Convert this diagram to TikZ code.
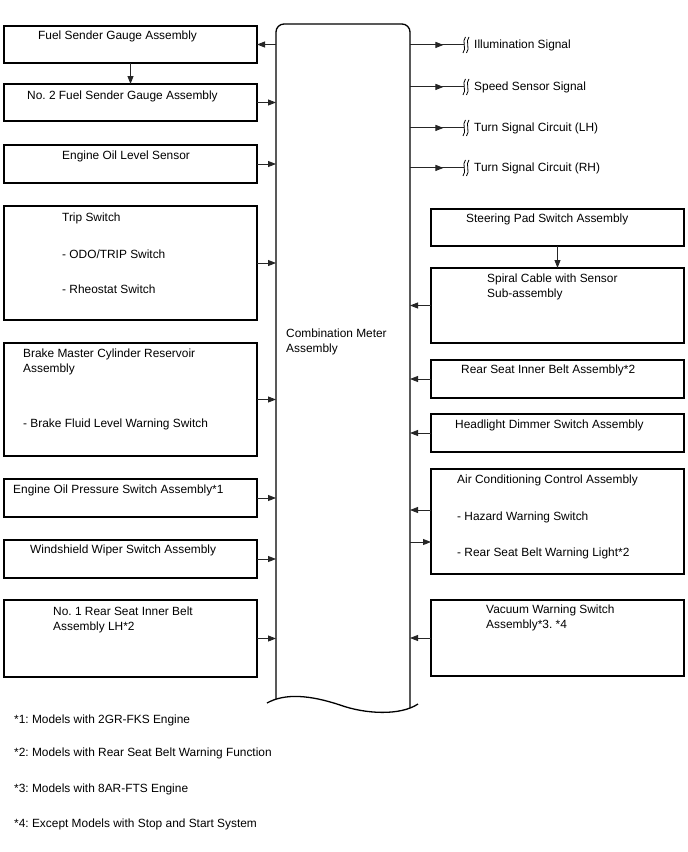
\documentclass[tikz,border=0pt]{standalone}
\usepackage{fontspec}
\setmainfont{Liberation Sans}
\usetikzlibrary{arrows.meta,calc,decorations.markings}
\frenchspacing

\begin{document}
\begin{tikzpicture}[x=1pt,y=-1pt,
 >={Triangle[length=8pt,width=6pt]},
 font=\fontsize{11.9}{15}\selectfont,
 blk/.style={draw,line width=1.3pt,minimum width=253pt,anchor=north west,inner sep=0pt,outer sep=0pt},
 txt/.style={anchor=base west,inner sep=0pt,align=left},
 conn/.style={->,line width=0.9pt,draw=black!85},
 sigline/.style={line width=0.9pt,draw=black!85,postaction={decorate},
  decoration={markings,mark=at position 0.62 with {\arrow{Triangle[length=8pt,width=6pt]}}}}
]
\useasboundingbox (0,0) rectangle (688,852);

\node[minimum width=134pt,minimum height=675pt,anchor=north west,inner sep=0pt,outer sep=0pt] (meter) at (276,24) {};
\draw[line width=1.3pt,rounded corners=8pt] (meter.south west) -- (meter.north west) -- (meter.north east) -- ($(meter.south east)+(0,9)$);
\draw[line width=1.3pt] (267,703) .. controls (285,693) and (310,695) .. (340,705) .. controls (365,714) and (400,716) .. (418,704);
\node[txt] (metertxt) at (286,352) {Combination Meter\\Assembly};

% left side
\node[blk,minimum height=37pt] (fuel) at (4,26) {};
\node[blk,minimum height=37pt] (fuel2) at (4,84) {};
\node[blk,minimum height=38pt] (oillvl) at (4,145) {};
\node[blk,minimum height=114pt] (trip) at (4,206) {};
\node[blk,minimum height=113pt] (brake) at (4,343) {};
\node[blk,minimum height=38pt] (oilpres) at (4,479) {};
\node[blk,minimum height=38pt] (wiper) at (4,540) {};
\node[blk,minimum height=77pt] (rearlh) at (4,600) {};

\node[txt] (fueltxt) at (38,39.5) {Fuel Sender Gauge Assembly};
\node[txt] (fuel2txt) at (27,99.5) {No. 2 Fuel Sender Gauge Assembly};
\node[txt] (oillvltxt) at (62,159.5) {Engine Oil Level Sensor};
\node[txt] (triptxt) at (62,293) {Trip Switch\\[22pt]- ODO/TRIP Switch\\[20pt]- Rheostat Switch};
\node[txt] (braketxt) at (23,427) {Brake Master Cylinder Reservoir\\Assembly\\[40pt]- Brake Fluid Level Warning Switch};
\node[txt] (oilprestxt) at (13,493.5) {Engine Oil Pressure Switch Assembly*1};
\node[txt] (wipertxt) at (30,553) {Windshield Wiper Switch Assembly};
\node[txt] (rearlhtxt) at (53,630.5) {No. 1 Rear Seat Inner Belt\\Assembly LH*2};

\draw[conn] (meter.west |- fuel.east) -- (fuel.east);
\draw[conn] (fuel.south) -- (fuel2.north);
\foreach \b in {fuel2,oillvl,trip,brake,oilpres,wiper,rearlh}
 \draw[conn] (\b.east) -- (meter.west |- \b.east);

% right side
\node[blk,minimum height=37pt] (steer) at (431,209) {};
\node[blk,minimum height=75pt] (spiral) at (431,268) {};
\node[blk,minimum height=38pt] (rearin) at (431,360) {};
\node[blk,minimum height=38pt] (dimmer) at (431,414) {};
\node[blk,minimum height=105pt] (ac) at (431,469) {};
\node[blk,minimum height=76pt] (vacuum) at (431,600) {};

\node[txt] (steertxt) at (466,222) {Steering Pad Switch Assembly};
\node[txt] (spiraltxt) at (487,297.5) {Spiral Cable with Sensor\\Sub-assembly};
\node[txt] (rearintxt) at (461,373.5) {Rear Seat Inner Belt Assembly*2};
\node[txt] (dimmertxt) at (455,428) {Headlight Dimmer Switch Assembly};
\node[txt] (actxt) at (457,556) {Air Conditioning Control Assembly\\[21.5pt]- Hazard Warning Switch\\[21pt]- Rear Seat Belt Warning Light*2};
\node[txt] (vacuumtxt) at (486,628.5) {Vacuum Warning Switch\\Assembly*3. *4};

\draw[conn] (steer.south) -- (spiral.north);
\foreach \b in {spiral,rearin,dimmer,vacuum}
 \draw[conn] (\b.west) -- (meter.east |- \b.west);
\coordinate (acin) at ($(ac.north west)+(0,41)$);
\coordinate (acout) at ($(ac.north west)+(0,73)$);
\draw[conn] (acin) -- (meter.east |- acin);
\draw[conn] (meter.east |- acout) -- (acout);

% signals
\foreach \s/\t/\y in {illum/Illumination Signal/48,speed/Speed Sensor Signal/90,turnl/Turn Signal Circuit (LH)/131,turnr/Turn Signal Circuit (RH)/171}{
 \node[txt] (\s) at (474,\y) {\t};
 \coordinate (\s cut) at ($(\s.west)+(-10,0)$);
 \draw[sigline] (meter.east |- \s cut) -- (\s cut);
 \foreach \dx in {0,3.5}
  \draw[line width=0.8pt,shift={(\s cut)}] (1.5+\dx,-8) .. controls (-2.5+\dx,-4) and (3+\dx,4) .. (-1+\dx,8);
}

% notes
\node[txt] (note1) at (14,723) {*1: Models with 2GR-FKS Engine};
\node[txt] (note2) at (14,756.5) {*2: Models with Rear Seat Belt Warning Function};
\node[txt] (note3) at (14,792) {*3: Models with 8AR-FTS Engine};
\node[txt] (note4) at (14,827) {*4: Except Models with Stop and Start System};
\end{tikzpicture}
\end{document}
